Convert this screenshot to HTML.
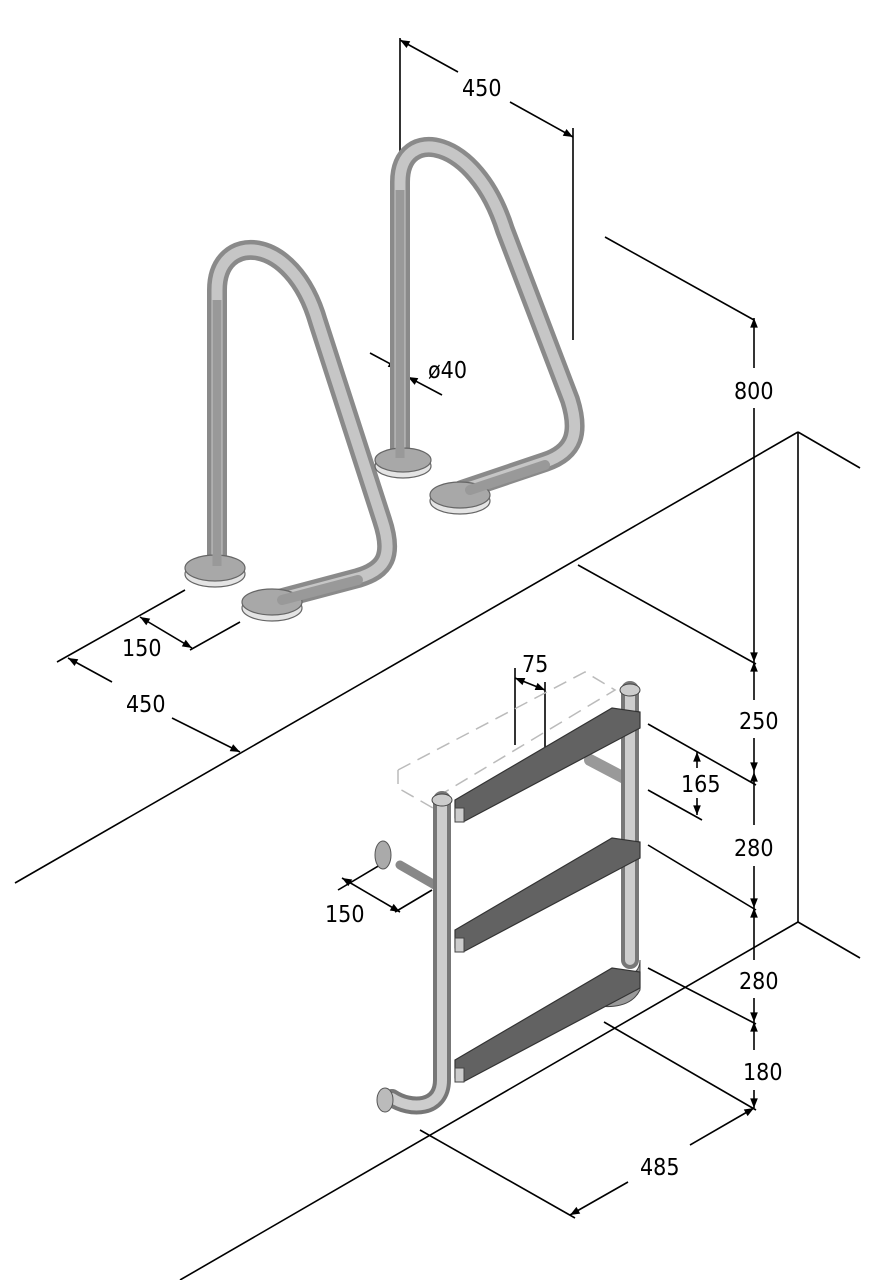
<!DOCTYPE html>
<html><head><meta charset="utf-8"><style>
html,body{margin:0;padding:0;background:#fff}
svg{display:block}
text{font-family:"DejaVu Sans Condensed","DejaVu Sans","Liberation Sans",sans-serif;font-size:23px;fill:#000}
</style></head><body>
<svg width="878" height="1280" viewBox="0 0 878 1280" xmlns="http://www.w3.org/2000/svg">
<defs>
<marker id="a" viewBox="0 0 10 10" refX="10" refY="5" markerWidth="9" markerHeight="6" orient="auto-start-reverse"><path d="M0,1 L10,5 L0,9z" fill="#000"/></marker>
</defs>
<g stroke="#000" stroke-width="1.6" fill="none">
<line x1="15" y1="883" x2="798" y2="432"/>
<line x1="798" y1="432" x2="860" y2="468"/>
<line x1="798" y1="432" x2="798" y2="922"/>
<line x1="798" y1="922" x2="860" y2="958"/>
<line x1="798" y1="922" x2="180" y2="1280"/>
<line x1="400" y1="38" x2="400" y2="165"/>
<line x1="573" y1="128" x2="573" y2="340"/>
<line x1="400" y1="40" x2="458" y2="72" marker-start="url(#a)"/>
<line x1="510" y1="102" x2="573" y2="137" marker-end="url(#a)"/>
<line x1="605" y1="237" x2="754" y2="320"/>
<line x1="754" y1="318" x2="754" y2="368" marker-start="url(#a)"/>
<line x1="754" y1="408" x2="754" y2="662" marker-end="url(#a)"/>
<line x1="754" y1="662" x2="754" y2="700" marker-start="url(#a)"/>
<line x1="754" y1="738" x2="754" y2="772" marker-end="url(#a)"/>
<line x1="754" y1="772" x2="754" y2="825" marker-start="url(#a)"/>
<line x1="754" y1="866" x2="754" y2="908" marker-end="url(#a)"/>
<line x1="754" y1="908" x2="754" y2="960" marker-start="url(#a)"/>
<line x1="754" y1="998" x2="754" y2="1022" marker-end="url(#a)"/>
<line x1="754" y1="1022" x2="754" y2="1050" marker-start="url(#a)"/>
<line x1="754" y1="1090" x2="754" y2="1108" marker-end="url(#a)"/>
<line x1="578" y1="565" x2="756" y2="664"/>
<line x1="648" y1="724" x2="756" y2="785"/>
<line x1="648" y1="845" x2="756" y2="910"/>
<line x1="648" y1="968" x2="756" y2="1024"/>
<line x1="604" y1="1022" x2="756" y2="1110"/>
<line x1="648" y1="790" x2="702" y2="820"/>
<line x1="697" y1="752" x2="697" y2="768" marker-start="url(#a)"/>
<line x1="697" y1="798" x2="697" y2="815" marker-end="url(#a)"/>
<line x1="420" y1="1130" x2="575" y2="1218"/>
<line x1="570" y1="1215" x2="628" y2="1182" marker-start="url(#a)"/>
<line x1="690" y1="1145" x2="754" y2="1108" marker-end="url(#a)"/>
<line x1="370" y1="353" x2="398" y2="368" marker-end="url(#a)"/>
<line x1="442" y1="395" x2="408" y2="377" marker-end="url(#a)"/>
<line x1="185" y1="590" x2="57" y2="662"/>
<line x1="240" y1="622" x2="190" y2="650"/>
<line x1="140" y1="617" x2="192" y2="648" marker-start="url(#a)" marker-end="url(#a)"/>
<line x1="68" y1="658" x2="112" y2="682" marker-start="url(#a)"/>
<line x1="172" y1="718" x2="240" y2="752" marker-end="url(#a)"/>
<line x1="385" y1="862" x2="338" y2="890"/>
<line x1="432" y1="890" x2="395" y2="912"/>
<line x1="342" y1="878" x2="400" y2="912" marker-start="url(#a)" marker-end="url(#a)"/>
<line x1="515" y1="668" x2="515" y2="745"/>
<line x1="545" y1="682" x2="545" y2="762"/>
<line x1="515" y1="678" x2="545" y2="690" marker-start="url(#a)" marker-end="url(#a)"/>
</g>
<g stroke="#bbb" stroke-width="1.5" fill="none" stroke-dasharray="14,8">
<path d="M398,770 L585,672 L615,690 L440,795"/>
<path d="M398,770 L398,788 L440,812"/>
</g>
<g fill="none" stroke-linecap="round" stroke-linejoin="round">
<path d="M217,565 L217,290 C217,232 292,232 318,322 L382,520 C394,556 385,570 358,578 L275,600" stroke="#8a8a8a" stroke-width="20"/>
<path d="M217,565 L217,290 C217,232 292,232 318,322 L382,520 C394,556 385,570 358,578 L275,600" stroke="#c6c6c6" stroke-width="11"/>
<path d="M400,455 L400,182 C400,125 475,135 505,230 L570,400 C580,432 575,452 545,462 L462,490" stroke="#8a8a8a" stroke-width="20"/>
<path d="M400,455 L400,182 C400,125 475,135 505,230 L570,400 C580,432 575,452 545,462 L462,490" stroke="#c6c6c6" stroke-width="11"/>
</g>
<g stroke="#666" stroke-width="1.2">
<ellipse cx="215" cy="574" rx="30" ry="13" fill="#e4e4e4"/><ellipse cx="215" cy="568" rx="30" ry="13" fill="#a8a8a8"/>
<ellipse cx="272" cy="608" rx="30" ry="13" fill="#e4e4e4"/><ellipse cx="272" cy="602" rx="30" ry="13" fill="#a8a8a8"/>
<ellipse cx="403" cy="466" rx="28" ry="12" fill="#e4e4e4"/><ellipse cx="403" cy="460" rx="28" ry="12" fill="#a8a8a8"/>
<ellipse cx="460" cy="501" rx="30" ry="13" fill="#e4e4e4"/><ellipse cx="460" cy="495" rx="30" ry="13" fill="#a8a8a8"/>
</g>
<path d="M217,566 L217,300" stroke="#999" stroke-width="9"/>
<path d="M400,458 L400,190" stroke="#999" stroke-width="9"/>
<path d="M282,600 L358,580" stroke="#999" stroke-width="10" stroke-linecap="round"/>
<path d="M470,490 L545,465" stroke="#999" stroke-width="10" stroke-linecap="round"/>
<g fill="none" stroke-linecap="round">
<path d="M400,865 L440,888" stroke="#888" stroke-width="9"/>
<path d="M590,760 L628,780" stroke="#999" stroke-width="12"/>
<path d="M630,690 L630,960" stroke="#777" stroke-width="18"/>
<path d="M630,690 L630,960" stroke="#cdcdcd" stroke-width="10"/>
<path d="M442,800 L442,1080 C442,1110 410,1110 392,1098" stroke="#777" stroke-width="18"/>
<path d="M442,800 L442,1080 C442,1110 410,1110 392,1098" stroke="#cdcdcd" stroke-width="10"/>
</g>
<ellipse cx="385" cy="1100" rx="8" ry="12" fill="#bbb" stroke="#555"/>
<ellipse cx="383" cy="855" rx="8" ry="14" fill="#aaa" stroke="#555"/>
<path d="M580,1000 C600,980 640,985 640,960 L640,990 C630,1010 600,1010 580,1000z" fill="#999" stroke="#444"/>
<g stroke="#333" stroke-width="1.2">
<path d="M455,800 L612,708 L640,712 L640,728 L463,822 L455,818z" fill="#626262"/>
<path d="M455,930 L612,838 L640,842 L640,858 L463,952 L455,948z" fill="#626262"/>
<path d="M455,1060 L612,968 L640,972 L640,988 L463,1082 L455,1078z" fill="#626262"/>
</g>
<g fill="#ccc" stroke="#444">
<rect x="455" y="808" width="9" height="14"/>
<rect x="455" y="938" width="9" height="14"/>
<rect x="455" y="1068" width="9" height="14"/>
<ellipse cx="442" cy="800" rx="10" ry="6"/>
<ellipse cx="630" cy="690" rx="10" ry="6"/>
</g>
<g>
<text x="462" y="96">450</text>
<text x="734" y="399">800</text>
<text x="739" y="729">250</text>
<text x="681" y="792">165</text>
<text x="734" y="856">280</text>
<text x="739" y="989">280</text>
<text x="743" y="1080">180</text>
<text x="640" y="1175">485</text>
<text x="428" y="378">ø40</text>
<text x="122" y="656">150</text>
<text x="126" y="712">450</text>
<text x="325" y="922">150</text>
<text x="522" y="672">75</text>
</g>
</svg>
</body></html>
